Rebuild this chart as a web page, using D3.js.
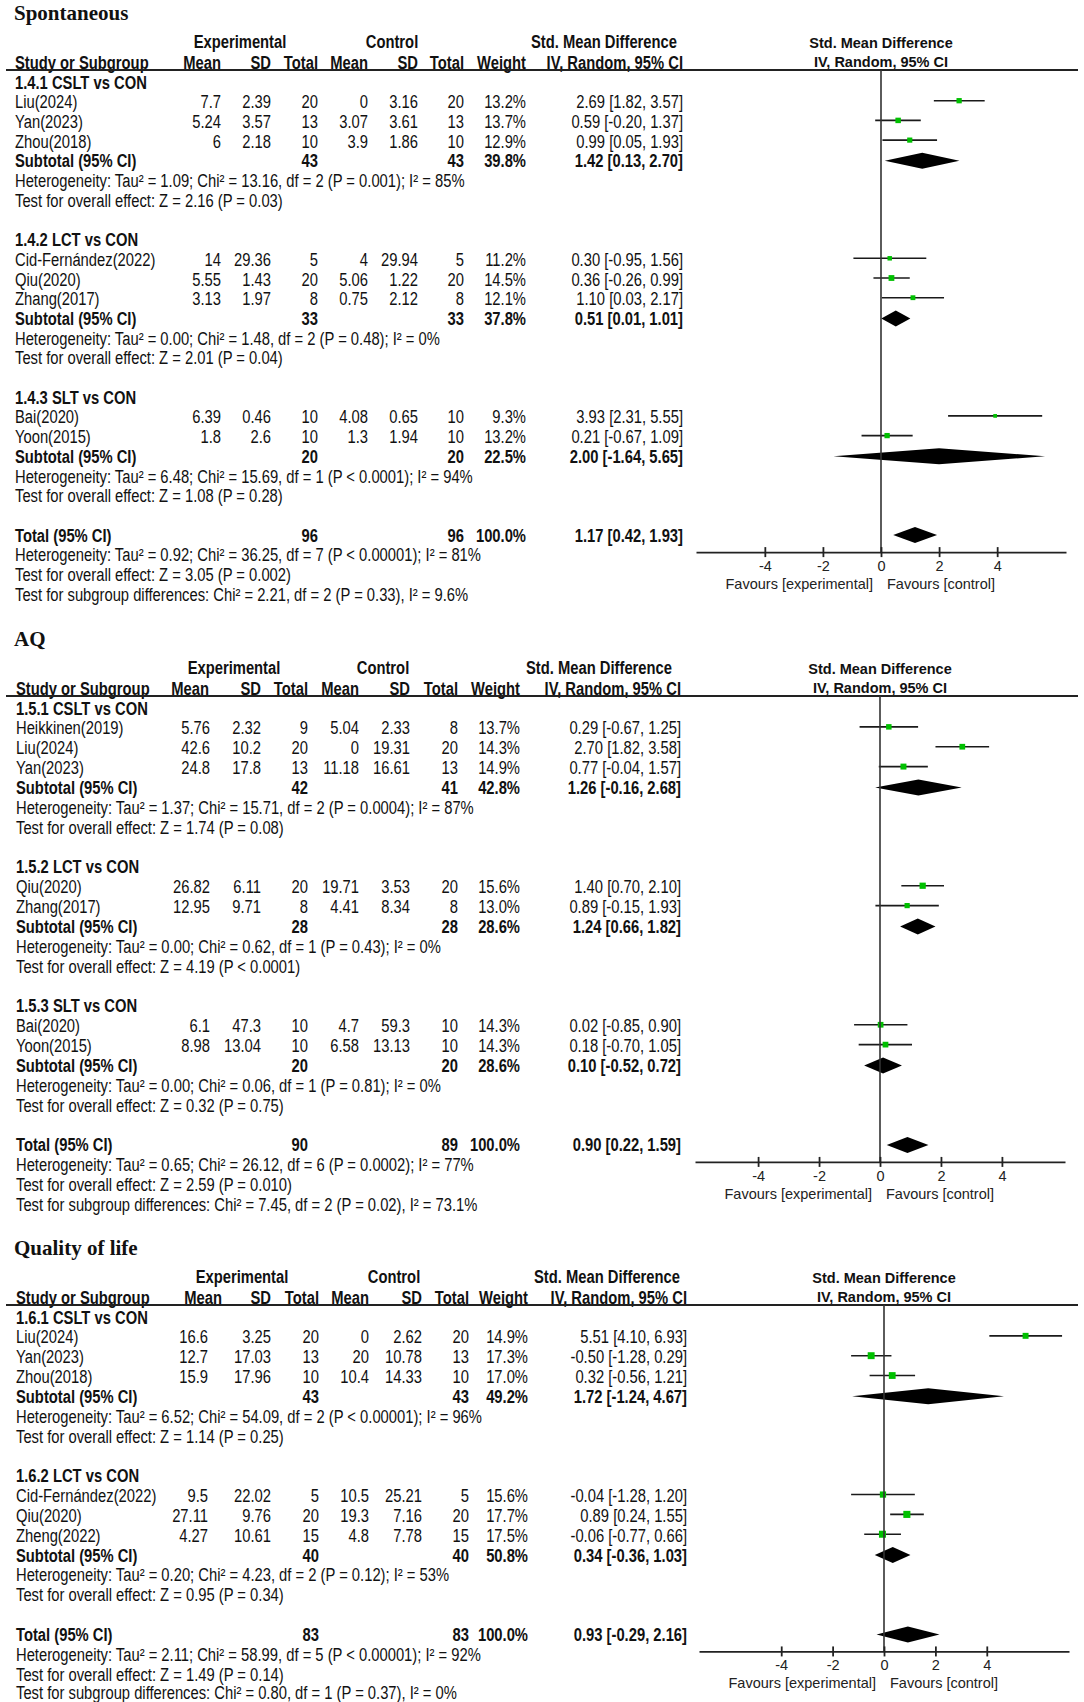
<!DOCTYPE html>
<html><head><meta charset="utf-8">
<script src="https://cdn.jsdelivr.net/npm/d3@7"></script>
<style>body{margin:0;background:#fff} svg{display:block}</style>
</head><body>
<svg id="chart" width="1084" height="1702"></svg>
<script>
// ---------------- DATA ----------------
const panelTitles = ["Spontaneous", "AQ", "Quality of life"];
const subgroupNames = [
  ["1.4.1 CSLT vs CON", "1.4.2 LCT vs CON", "1.4.3 SLT vs CON"],
  ["1.5.1 CSLT vs CON", "1.5.2 LCT vs CON", "1.5.3 SLT vs CON"],
  ["1.6.1 CSLT vs CON", "1.6.2 LCT vs CON"]
];
// panel, subgroup, study, exp mean, exp SD, exp N, ctrl mean, ctrl SD, ctrl N, weight %, SMD, lower, upper
const studies = [
  [0,0,"Liu(2024)","7.7","2.39",20,"0","3.16",20,13.2,2.69,1.82,3.57],
  [0,0,"Yan(2023)","5.24","3.57",13,"3.07","3.61",13,13.7,0.59,-0.20,1.37],
  [0,0,"Zhou(2018)","6","2.18",10,"3.9","1.86",10,12.9,0.99,0.05,1.93],
  [0,1,"Cid-Fernández(2022)","14","29.36",5,"4","29.94",5,11.2,0.30,-0.95,1.56],
  [0,1,"Qiu(2020)","5.55","1.43",20,"5.06","1.22",20,14.5,0.36,-0.26,0.99],
  [0,1,"Zhang(2017)","3.13","1.97",8,"0.75","2.12",8,12.1,1.10,0.03,2.17],
  [0,2,"Bai(2020)","6.39","0.46",10,"4.08","0.65",10,9.3,3.93,2.31,5.55],
  [0,2,"Yoon(2015)","1.8","2.6",10,"1.3","1.94",10,13.2,0.21,-0.67,1.09],
  [1,0,"Heikkinen(2019)","5.76","2.32",9,"5.04","2.33",8,13.7,0.29,-0.67,1.25],
  [1,0,"Liu(2024)","42.6","10.2",20,"0","19.31",20,14.3,2.70,1.82,3.58],
  [1,0,"Yan(2023)","24.8","17.8",13,"11.18","16.61",13,14.9,0.77,-0.04,1.57],
  [1,1,"Qiu(2020)","26.82","6.11",20,"19.71","3.53",20,15.6,1.40,0.70,2.10],
  [1,1,"Zhang(2017)","12.95","9.71",8,"4.41","8.34",8,13.0,0.89,-0.15,1.93],
  [1,2,"Bai(2020)","6.1","47.3",10,"4.7","59.3",10,14.3,0.02,-0.85,0.90],
  [1,2,"Yoon(2015)","8.98","13.04",10,"6.58","13.13",10,14.3,0.18,-0.70,1.05],
  [2,0,"Liu(2024)","16.6","3.25",20,"0","2.62",20,14.9,5.51,4.10,6.93],
  [2,0,"Yan(2023)","12.7","17.03",13,"20","10.78",13,17.3,-0.50,-1.28,0.29],
  [2,0,"Zhou(2018)","15.9","17.96",10,"10.4","14.33",10,17.0,0.32,-0.56,1.21],
  [2,1,"Cid-Fernández(2022)","9.5","22.02",5,"10.5","25.21",5,15.6,-0.04,-1.28,1.20],
  [2,1,"Qiu(2020)","27.11","9.76",20,"19.3","7.16",20,17.7,0.89,0.24,1.55],
  [2,1,"Zheng(2022)","4.27","10.61",15,"4.8","7.78",15,17.5,-0.06,-0.77,0.66]
];
// panel, subgroup, exp N, ctrl N, weight %, SMD, lower, upper, heterogeneity, overall effect
const subtotals = [
  [0,0,43,43,39.8,1.42,0.13,2.70,"Tau² = 1.09; Chi² = 13.16, df = 2 (P = 0.001); I² = 85%","Z = 2.16 (P = 0.03)"],
  [0,1,33,33,37.8,0.51,0.01,1.01,"Tau² = 0.00; Chi² = 1.48, df = 2 (P = 0.48); I² = 0%","Z = 2.01 (P = 0.04)"],
  [0,2,20,20,22.5,2.00,-1.64,5.65,"Tau² = 6.48; Chi² = 15.69, df = 1 (P < 0.0001); I² = 94%","Z = 1.08 (P = 0.28)"],
  [1,0,42,41,42.8,1.26,-0.16,2.68,"Tau² = 1.37; Chi² = 15.71, df = 2 (P = 0.0004); I² = 87%","Z = 1.74 (P = 0.08)"],
  [1,1,28,28,28.6,1.24,0.66,1.82,"Tau² = 0.00; Chi² = 0.62, df = 1 (P = 0.43); I² = 0%","Z = 4.19 (P < 0.0001)"],
  [1,2,20,20,28.6,0.10,-0.52,0.72,"Tau² = 0.00; Chi² = 0.06, df = 1 (P = 0.81); I² = 0%","Z = 0.32 (P = 0.75)"],
  [2,0,43,43,49.2,1.72,-1.24,4.67,"Tau² = 6.52; Chi² = 54.09, df = 2 (P < 0.00001); I² = 96%","Z = 1.14 (P = 0.25)"],
  [2,1,40,40,50.8,0.34,-0.36,1.03,"Tau² = 0.20; Chi² = 4.23, df = 2 (P = 0.12); I² = 53%","Z = 0.95 (P = 0.34)"]
];
// panel, exp N, ctrl N, weight %, SMD, lower, upper, heterogeneity, overall effect, subgroup differences
const totals = [
  [0,96,96,100.0,1.17,0.42,1.93,"Tau² = 0.92; Chi² = 36.25, df = 7 (P < 0.00001); I² = 81%","Z = 3.05 (P = 0.002)","Chi² = 2.21, df = 2 (P = 0.33), I² = 9.6%"],
  [1,90,89,100.0,0.90,0.22,1.59,"Tau² = 0.65; Chi² = 26.12, df = 6 (P = 0.0002); I² = 77%","Z = 2.59 (P = 0.010)","Chi² = 7.45, df = 2 (P = 0.02), I² = 73.1%"],
  [2,83,83,100.0,0.93,-0.29,2.16,"Tau² = 2.11; Chi² = 58.99, df = 5 (P < 0.00001); I² = 92%","Z = 1.49 (P = 0.14)","Chi² = 0.80, df = 1 (P = 0.37), I² = 0%"]
];
const axisTicks = [-4, -2, 0, 2, 4];
const axisLimits = [6.37, 6.07, 7.2];
const favoursLabels = ["Favours [experimental]", "Favours [control]"];

// ---------------- LAYOUT ----------------
const layout = [
  {top:43,  step:19.7,  study:15, meanHead:221, mean:221, sd:271, n:318, cmean:368, csd:418, cn:464, w:526, ci:683, exp:240, ctl:392, smd:604, zero:881},
  {top:669, step:19.86, study:16, meanHead:209, mean:210, sd:261, n:308, cmean:359, csd:410, cn:458, w:520, ci:681, exp:234, ctl:383, smd:599, zero:880},
  {top:1278,step:19.84, study:16, meanHead:222, mean:208, sd:271, n:319, cmean:369, csd:422, cn:469, w:528, ci:687, exp:242, ctl:394, smd:607, zero:884}
];
const INK = "#111";
const GREEN = "#00c000";
const svg = d3.select("#chart");
svg.append("rect").attr("width",1084).attr("height",1702).attr("fill","#fff");

function measure(fam){
  const t = svg.append("text").style("font-family",fam).style("font-size","18px").text("Heterogeneity: Tau² = 1.09; Chi²");
  const w = t.node().getComputedTextLength(); t.remove(); return w;
}
const narrowOK = measure("'Liberation Sans Narrow'") < 0.9 * measure("'Liberation Sans'");
const TFONT = narrowOK ? "'Liberation Sans Narrow','Arial Narrow',sans-serif" : "'Liberation Sans',Arial,sans-serif";

function ttext(g, x, y, str, anchor, bold){
  const t = g.append("text").attr("x",x).attr("y",y).attr("text-anchor",anchor||"start")
    .style("font-family",TFONT).style("font-size","18px").style("font-weight",bold?"bold":"normal")
    .attr("fill",INK).text(str);
  if(!narrowOK){
    const L = t.node().getComputedTextLength();
    t.attr("textLength", L*0.82).attr("lengthAdjust","spacingAndGlyphs");
  }
  return t;
}
const pfont = "'Liberation Sans',Arial,sans-serif";
const fmt2 = v => v.toFixed(2);
const ciStr = (m,l,h) => `${fmt2(m)} [${fmt2(l)}, ${fmt2(h)}]`;

panelTitles.forEach((title, p) => {
  const L = layout[p];
  const g = svg.append("g");
  const lim = axisLimits[p];
  const x = d3.scaleLinear().domain([-lim, lim]).range([L.zero-185, L.zero+185]);
  const size = d3.scaleLinear().domain([0, 18]).range([0, 7.2]);
  const rowY = i => L.top + 39 + i*L.step;
  const base = i => rowY(i) + 6.5;

  // title
  g.append("text").attr("x",14).attr("y",L.top-23).style("font-family","'Liberation Serif','Times New Roman',serif")
    .style("font-size","21px").style("font-weight","bold").attr("fill",INK).text(title);

  // header rows
  const h1 = L.top + 5, h2 = L.top + 25.5;
  ttext(g, L.exp, h1, "Experimental", "middle", true);
  ttext(g, L.ctl, h1, "Control", "middle", true);
  ttext(g, L.smd, h1, "Std. Mean Difference", "middle", true);
  ttext(g, L.study, h2, "Study or Subgroup", "start", true);
  ttext(g, L.meanHead, h2, "Mean", "end", true);
  ttext(g, L.sd, h2, "SD", "end", true);
  ttext(g, L.n, h2, "Total", "end", true);
  ttext(g, L.cmean, h2, "Mean", "end", true);
  ttext(g, L.csd, h2, "SD", "end", true);
  ttext(g, L.cn, h2, "Total", "end", true);
  ttext(g, L.w, h2, "Weight", "end", true);
  ttext(g, L.ci, h2, "IV, Random, 95% CI", "end", true);
  g.append("text").attr("x",L.zero).attr("y",L.top+5).attr("text-anchor","middle")
    .style("font-family",pfont).style("font-size","14.5px").style("font-weight","bold").attr("fill",INK).text("Std. Mean Difference");
  g.append("text").attr("x",L.zero).attr("y",L.top+24).attr("text-anchor","middle")
    .style("font-family",pfont).style("font-size","14.5px").style("font-weight","bold").attr("fill",INK).text("IV, Random, 95% CI");
  const lineY = L.top + 27;
  g.append("line").attr("x1",6).attr("x2",1078).attr("y1",lineY).attr("y2",lineY).attr("stroke","#222").attr("stroke-width",2);

  // rows
  let r = 0;
  const plotG = svg.append("g");
  const diamond = (m,l,h,y) => {
    plotG.append("path").attr("d",`M${x(l)},${y}L${x(m)},${y-8}L${x(h)},${y}L${x(m)},${y+8}Z`).attr("fill","#000");
  };
  subgroupNames[p].forEach((sgName, s) => {
    ttext(g, L.study, base(r), sgName, "start", true); r++;
    studies.filter(d => d[0]===p && d[1]===s).forEach(d => {
      const y = base(r);
      ttext(g, L.study, y, d[2]);
      ttext(g, L.mean, y, d[3], "end");
      ttext(g, L.sd, y, d[4], "end");
      ttext(g, L.n, y, d[5], "end");
      ttext(g, L.cmean, y, d[6], "end");
      ttext(g, L.csd, y, d[7], "end");
      ttext(g, L.cn, y, d[8], "end");
      ttext(g, L.w, y, d[9].toFixed(1)+"%", "end");
      ttext(g, L.ci, y, ciStr(d[10],d[11],d[12]), "end");
      const cy = rowY(r) - 1;
      plotG.append("line").attr("x1",x(d[11])).attr("x2",x(d[12])).attr("y1",cy).attr("y2",cy).attr("stroke","#1a1a1a").attr("stroke-width",1.6);
      const sz = size(d[9]);
      plotG.append("rect").attr("x",x(d[10])-sz/2).attr("y",cy-sz/2).attr("width",sz).attr("height",sz).attr("fill",GREEN);
      r++;
    });
    const st = subtotals.find(d => d[0]===p && d[1]===s);
    let y = base(r);
    ttext(g, L.study, y, "Subtotal (95% CI)", "start", true);
    ttext(g, L.n, y, st[2], "end", true);
    ttext(g, L.cn, y, st[3], "end", true);
    ttext(g, L.w, y, st[4].toFixed(1)+"%", "end", true);
    ttext(g, L.ci, y, ciStr(st[5],st[6],st[7]), "end", true);
    diamond(st[5], st[6], st[7], rowY(r));
    r++;
    ttext(g, L.study, base(r), "Heterogeneity: " + st[8]); r++;
    ttext(g, L.study, base(r), "Test for overall effect: " + st[9]); r++;
    r++;
  });
  const tt = totals.find(d => d[0]===p);
  let y = base(r);
  ttext(g, L.study, y, "Total (95% CI)", "start", true);
  ttext(g, L.n, y, tt[1], "end", true);
  ttext(g, L.cn, y, tt[2], "end", true);
  ttext(g, L.w, y, tt[3].toFixed(1)+"%", "end", true);
  ttext(g, L.ci, y, ciStr(tt[4],tt[5],tt[6]), "end", true);
  diamond(tt[4], tt[5], tt[6], rowY(r));
  const axisY = rowY(r) + 17;
  r++;
  ttext(g, L.study, base(r), "Heterogeneity: " + tt[7]); r++;
  ttext(g, L.study, base(r), "Test for overall effect: " + tt[8]); r++;
  ttext(g, L.study, Math.min(base(r), 1699), "Test for subgroup differences: " + tt[9]); r++;

  // zero line
  plotG.append("line").attr("x1",x(0)).attr("x2",x(0)).attr("y1",lineY).attr("y2",axisY).attr("stroke","#333").attr("stroke-width",1.6);
  // axis
  const ax = plotG.append("g").attr("transform",`translate(0,${axisY})`)
    .call(d3.axisBottom(x).tickValues(axisTicks).tickSize(5).tickSizeOuter(0).tickFormat(d => String(d)));
  ax.select(".domain").attr("stroke","#222").attr("stroke-width",1.8);
  ax.selectAll(".tick line").attr("stroke","#222").attr("stroke-width",1.8).attr("y1",-5).attr("y2",5);
  ax.selectAll(".tick text").attr("y",14).attr("dy","0.32em").style("font-family",pfont).style("font-size","14.5px").attr("fill","#222");
  plotG.append("text").attr("x",x(0)-8).attr("y",axisY+37).attr("text-anchor","end")
    .style("font-family",pfont).style("font-size","14.5px").attr("fill","#222").text(favoursLabels[0]);
  plotG.append("text").attr("x",x(0)+6).attr("y",axisY+37).attr("text-anchor","start")
    .style("font-family",pfont).style("font-size","14.5px").attr("fill","#222").text(favoursLabels[1]);
});
</script>
</body></html>
